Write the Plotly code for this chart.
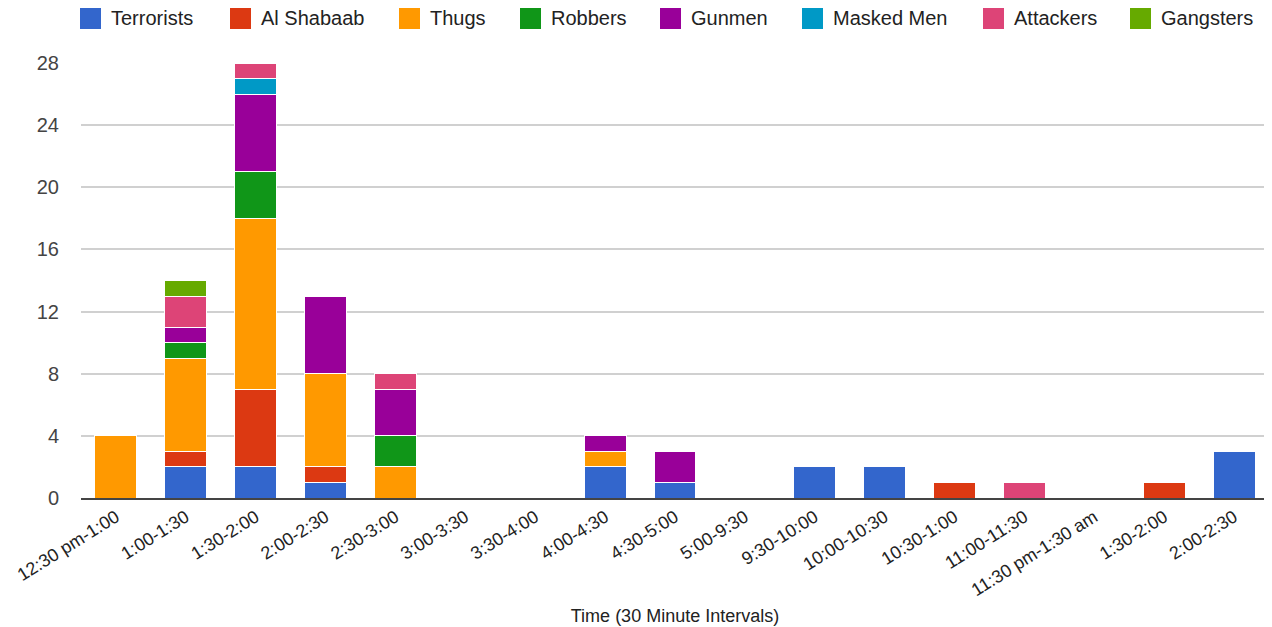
import plotly.graph_objects as go

categories = ["12:30 pm-1:00", "1:00-1:30", "1:30-2:00", "2:00-2:30", "2:30-3:00",
              "3:00-3:30", "3:30-4:00", "4:00-4:30", "4:30-5:00", "5:00-9:30",
              "9:30-10:00", "10:00-10:30", "10:30-1:00", "11:00-11:30",
              "11:30 pm-1:30 am", "1:30-2:00", "2:00-2:30"]

terrorists = [0, 2, 2, 1, 0, 0, 0, 2, 1, 0, 2, 2, 0, 0, 0, 0, 3]
al_shabaab = [0, 1, 5, 1, 0, 0, 0, 0, 0, 0, 0, 0, 1, 0, 0, 1, 0]
thugs      = [4, 6, 11, 6, 2, 0, 0, 1, 0, 0, 0, 0, 0, 0, 0, 0, 0]
robbers    = [0, 1, 3, 0, 2, 0, 0, 0, 0, 0, 0, 0, 0, 0, 0, 0, 0]
gunmen     = [0, 1, 5, 5, 3, 0, 0, 1, 2, 0, 0, 0, 0, 0, 0, 0, 0]
masked_men = [0, 0, 1, 0, 0, 0, 0, 0, 0, 0, 0, 0, 0, 0, 0, 0, 0]
attackers  = [0, 2, 1, 0, 1, 0, 0, 0, 0, 0, 0, 0, 0, 1, 0, 0, 0]
gangsters  = [0, 1, 0, 0, 0, 0, 0, 0, 0, 0, 0, 0, 0, 0, 0, 0, 0]

series_names = ["Terrorists", "Al Shabaab", "Thugs", "Robbers", "Gunmen",
                "Masked Men", "Attackers", "Gangsters"]
series_values = [terrorists, al_shabaab, thugs, robbers, gunmen,
                 masked_men, attackers, gangsters]
series_colors = ["#3366CC", "#DC3912", "#FF9900", "#109618", "#990099",
                 "#0099C6", "#DD4477", "#66AA00"]

y_ticks = [0, 4, 8, 12, 16, 20, 24, 28]

# screen geometry (the page body adds an 8px offset)
OFF = 8
SW_, SH_ = 1272, 627
W, H = SW_ - OFF, SH_ - OFF
PL, PR, PT, PB = 81, 1269, 63, 498          # plot area on screen
ML, MR, MT, MB = PL - OFF, SW_ - PR, PT - OFF, SH_ - PB
PW = PR - PL
PH = PB - PT

xpos = list(range(len(categories)))

fig = go.Figure()
for name, vals, color in zip(series_names, series_values, series_colors):
    fig.add_trace(go.Bar(
        x=xpos, y=vals, name=name, showlegend=False,
        marker=dict(color=color, line=dict(color="white", width=1)),
    ))

# custom legend (larger swatches, like the original)
legend_left_px = [80, 230, 399, 520, 660, 802, 983, 1130]
sw = 21
sw_top, sw_bot = 8, 29
def px_x(p):
    return (p - PL) / PW
def px_y(p):
    return (PB - p) / PH

shapes = []
annotations = []
for name, color, lx in zip(series_names, series_colors, legend_left_px):
    shapes.append(dict(type="rect", xref="paper", yref="paper",
                       x0=px_x(lx), x1=px_x(lx + sw),
                       y0=px_y(sw_bot), y1=px_y(sw_top),
                       fillcolor=color, line=dict(width=0)))
    annotations.append(dict(xref="paper", yref="paper",
                            x=px_x(lx + sw + 8), y=px_y((sw_top + sw_bot) / 2),
                            xanchor="left", yanchor="middle", showarrow=False,
                            text=name, font=dict(size=20, color="#222222")))

fig.update_layout(
    barmode="stack",
    bargap=0.4,
    width=W, height=H,
    margin=dict(l=ML, r=MR, t=MT, b=MB, autoexpand=False),
    paper_bgcolor="white", plot_bgcolor="white",
    font=dict(family="Liberation Sans, Arial, sans-serif", size=18, color="#222222"),
    showlegend=False,
    shapes=shapes,
    annotations=annotations,
    xaxis=dict(
        tickmode="array", tickvals=xpos, ticktext=categories, tickangle=-32,
        range=[-0.5, len(categories) - 0.5], automargin=False,
        showgrid=False, showline=True, linecolor="#444444", linewidth=1.5,
        ticks="", tickfont=dict(size=18, color="#222222"),
        title=dict(text="Time (30 Minute Intervals)", font=dict(size=18, color="#222222"),
                   standoff=10),
    ),
    yaxis=dict(
        range=[0, 28], tickmode="array", tickvals=y_ticks, automargin=False,
        showgrid=True, gridcolor="#D0D0D0", gridwidth=1.5, zeroline=False,
        tickfont=dict(size=20, color="#444444"), ticks="", ticklabelstandoff=21,
    ),
)

fig.write_html("out.html")
